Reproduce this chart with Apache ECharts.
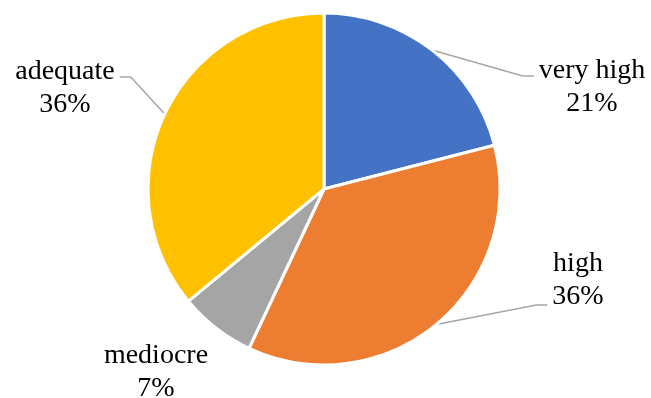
<!DOCTYPE html>
<html>
<head>
<meta charset="utf-8">
<script src="https://cdn.jsdelivr.net/npm/echarts@6/dist/echarts.min.js"></script>
<style>
    html, body { margin: 0; padding: 0; background: #fff; }
    #pieChart { width: 651px; height: 398px; }
</style>
</head>
<body>
<div id="pieChart"></div>
<script>
    var categories = ['very high', 'high', 'mediocre', 'adequate'];
    var values = [21, 36, 7, 36];
    var colors = ['#4472C4', '#ED7D31', '#A5A5A5', '#FFC000'];

    // label centres (layout only)
    var labelPos = [[592, 87], [578, 280], [156, 372], [65, 88]];
    var cy = 189;

    var pieChart = echarts.init(document.getElementById('pieChart'));

    var data = categories.map(function (name, i) {
        var item = { name: name, value: values[i], itemStyle: { color: colors[i] } };
        if (name === 'mediocre') {
            item.labelLine = { show: false };
        }
        return item;
    });

    var option = {
        animation: false,
        series: [
            {
                type: 'pie',
                center: [324, cy],
                radius: 176,
                startAngle: 90,
                clockwise: true,
                avoidLabelOverlap: false,
                itemStyle: {
                    borderColor: '#fff',
                    borderWidth: 3
                },
                label: {
                    show: true,
                    position: 'outside',
                    formatter: '{b}\n{d}%',
                    fontFamily: 'Liberation Serif',
                    fontSize: 28,
                    lineHeight: 33,
                    color: '#000',
                    align: 'center',
                    overflow: 'none'
                },
                labelLine: {
                    show: true,
                    lineStyle: { color: '#A6A6A6', width: 1.5 }
                },
                labelLayout: function (params) {
                    var pos = labelPos[params.dataIndex];
                    var w = params.labelRect.width;
                    var h = params.labelRect.height;
                    var out = { x: pos[0], y: pos[1], align: 'center', verticalAlign: 'middle' };
                    if (params.labelLinePoints) {
                        var p0 = params.labelLinePoints[0];
                        var right = pos[0] > p0[0];
                        var ex = right ? pos[0] - w / 2 - 5 : pos[0] + w / 2 + 5;
                        var ey = pos[1] < cy ? pos[1] - h / 2 + 22 : pos[1] + h / 2 - 8;
                        out.labelLinePoints = [p0, [ex + (right ? -11 : 11), ey], [ex, ey]];
                    }
                    return out;
                },
                data: data
            }
        ]
    };

    pieChart.setOption(option);
</script>
</body>
</html>
